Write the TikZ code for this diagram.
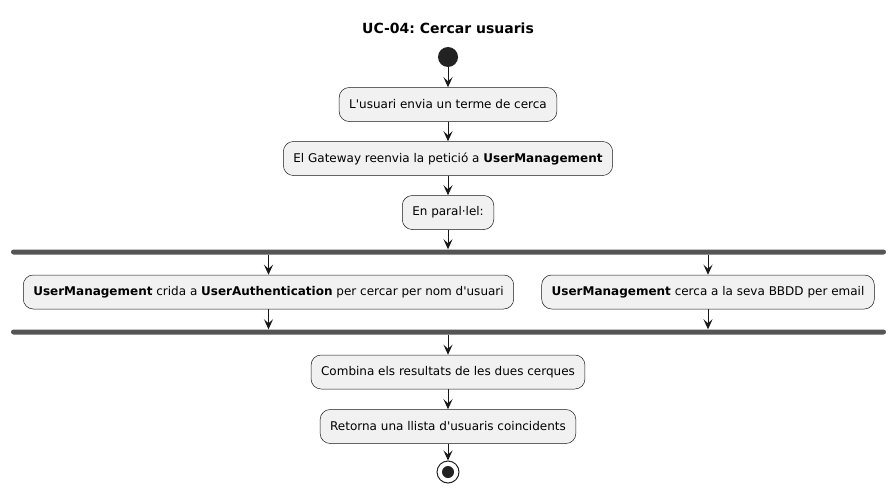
\documentclass[tikz,border=0pt]{standalone}
\usepackage{fontspec}
\setmainfont{DejaVu Sans}
\usepackage{xcolor}
\usetikzlibrary{positioning}
\usetikzlibrary{calc,arrows.meta}
\definecolor{actfill}{HTML}{F1F1F1}
\definecolor{actline}{HTML}{181818}
\definecolor{barfill}{HTML}{555555}
\definecolor{dotfill}{HTML}{222222}
\newcommand{\apos}{\textquotesingle}
\frenchspacing
\tikzset{
  action/.style={draw=actline, line width=0.5pt, fill=actfill, rounded corners=10pt,
    minimum height=34pt, inner xsep=10pt, inner ysep=0pt, font=\fontsize{12}{14}\selectfont},
  forkbar/.style={fill=barfill, rounded corners=2.5pt, minimum width=875pt,
    minimum height=5pt, inner sep=0pt},
  flow/.style={-{Stealth[length=10pt,width=9pt,inset=4pt]}, draw=actline, line width=1pt},
}

\begin{document}
\begin{tikzpicture}[x=1pt,y=-1pt]
		\fill[white] (0,0) rectangle (896,495);
		\useasboundingbox (0,0) rectangle (896,495);
		\node[font=\bfseries\fontsize{14}{16}\selectfont] (title) at (448,28) {UC-04: Cercar usuaris};
		\node[circle, fill=dotfill, minimum size=20pt, inner sep=0pt] (start) at (448,57) {};
		\node[action] (send) at (448,104.5) {L\apos usuari envia un terme de cerca};
		\node[action] (gateway) at (448,158.5) {El Gateway reenvia la petició a \textbf{UserManagement}};
		\node[action] (parallel) at (448,212.5) {En paral·lel:};
		\node[forkbar] (fork) at (448.5,252) {};
		\node[action] (byname) at (268.5,292) {\textbf{UserManagement} crida a \textbf{UserAuthentication} per cercar per nom d\apos usuari};
		\node[action] (byemail) at (708,292) {\textbf{UserManagement} cerca a la seva BBDD per email};
		\node[forkbar] (join) at (448.5,332) {};
		\node[action] (merge) at (448,372) {Combina els resultats de les dues cerques};
		\node[action] (result) at (448,426.5) {Retorna una llista d\apos usuaris coincidents};
		\node[circle, draw=dotfill, line width=1pt, minimum size=22pt, inner sep=0pt] (stop) at (448,472) {};
		\fill[dotfill] (stop) circle (6pt);
		\draw[flow] (start) -- (send);
		\draw[flow] (send) -- (gateway);
		\draw[flow] (gateway) -- (parallel);
		\draw[flow] (parallel) -- (parallel |- fork.north);
		\draw[flow] (fork.south -| byname) -- (byname);
		\draw[flow] (fork.south -| byemail) -- (byemail);
		\draw[flow] (byname) -- (byname |- join.north);
		\draw[flow] (byemail) -- (byemail |- join.north);
		\draw[flow] (join.south -| merge) -- (merge);
		\draw[flow] (merge) -- (result);
		\draw[flow] (result) -- (stop);
	\end{tikzpicture}
\end{document}
